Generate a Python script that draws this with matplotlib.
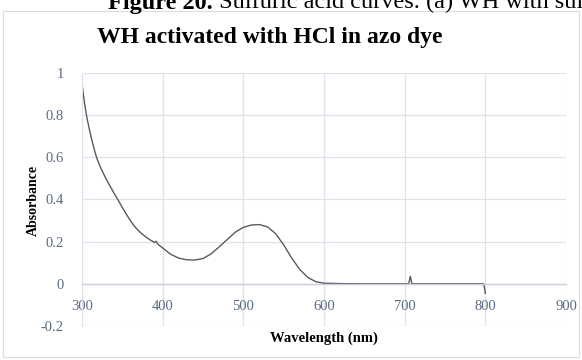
import matplotlib
matplotlib.use("Agg")
import matplotlib.pyplot as plt
from matplotlib.patches import Rectangle

wavelength = [300, 303, 306, 309, 312, 315, 318, 321, 325, 330, 335, 340, 345,
              350, 355, 360, 365, 370, 375, 380, 385, 390, 392, 394, 400, 410,
              420, 430, 440, 450, 460, 470, 480, 490, 500, 510, 520, 530, 540,
              550, 560, 570, 580, 590, 600, 620, 650, 700, 705, 707, 709, 750,
              798, 800]
absorbance = [0.95, 0.86, 0.79, 0.735, 0.685, 0.640, 0.600, 0.570, 0.535,
              0.497, 0.462, 0.428, 0.396, 0.362, 0.330, 0.300, 0.273, 0.252,
              0.235, 0.220, 0.207, 0.196, 0.202, 0.188, 0.170, 0.140, 0.122,
              0.114, 0.113, 0.120, 0.142, 0.175, 0.210, 0.245, 0.268, 0.279,
              0.281, 0.270, 0.238, 0.185, 0.122, 0.068, 0.030, 0.010, 0.003,
              0.001, 0.0, 0.0, 0.0, 0.036, 0.0, 0.0, 0.0, -0.045]

x_ticks = [300, 400, 500, 600, 700, 800, 900]
y_ticks = [-0.2, 0, 0.2, 0.4, 0.6, 0.8, 1]
y_tick_labels = ["-0.2", "0", "0.2", "0.4", "0.6", "0.8", "1"]

title = "WH activated with HCl in azo dye"
x_label = "Wavelength (nm)"
y_label = "Absorbance"
caption_bold = "Figure 20."
caption_rest = " Sulfuric acid curves. (a) WH with sulfuric acid"

W, H = 582, 360
fig = plt.figure(figsize=(W / 100, H / 100), dpi=100)
serif = "Liberation Serif"

# outer chart border
fig.patches.append(Rectangle((3 / W, 3 / H), 576 / W, 346 / H, transform=fig.transFigure,
                             fill=False, edgecolor="#d9dce3", linewidth=0.8))

# cut-off caption at top
t1 = fig.text(108 / W, 1 - 8.5 / H, caption_bold, fontsize=17.5, fontweight="bold",
              family=serif, va="baseline", ha="left", color="black")
fig.canvas.draw()
bb = t1.get_window_extent(renderer=fig.canvas.get_renderer())
fig.text(bb.x1 / W, 1 - 8.5 / H, caption_rest,
         fontsize=17.5, family=serif, va="baseline", ha="left", color="black")

ax = fig.add_axes([82 / W, 34 / H, 484 / W, 253 / H])
ax.plot(wavelength, absorbance, color="#5a5a5a", linewidth=1.0)
ax.set_xlim(300, 900)
ax.set_ylim(-0.2, 1)
ax.set_xticks(x_ticks)
ax.set_yticks(y_ticks)
ax.set_yticklabels(y_tick_labels)
ax.grid(True, color="#dfe2ea", linewidth=0.9)
ax.set_axisbelow(True)
for s in ["top", "right"]:
    ax.spines[s].set_visible(False)
ax.spines["left"].set_color("#dfe2ea")
ax.spines["bottom"].set_position(("data", 0))
ax.spines["bottom"].set_color("#c9cfdc")
ax.spines["bottom"].set_linewidth(1.0)
ax.tick_params(length=0, labelcolor="#5b6a84", labelsize=10.5)
ax.tick_params(axis="y", pad=13)
ax.tick_params(axis="x", pad=12)
for lbl in ax.get_xticklabels() + ax.get_yticklabels():
    lbl.set_family(serif)

fig.text(270 / W, 1 - 38 / H, title, fontsize=17, fontweight="bold", family=serif,
         ha="center", va="center")
fig.text(33 / W, 1 - 200 / H, y_label, fontsize=10, fontweight="bold", family=serif,
         rotation=90, ha="center", va="center")
fig.text(324 / W, 1 - 338 / H, x_label, fontsize=10.5, fontweight="bold", family=serif,
         ha="center", va="center")

fig.savefig("out.png", dpi=100)
